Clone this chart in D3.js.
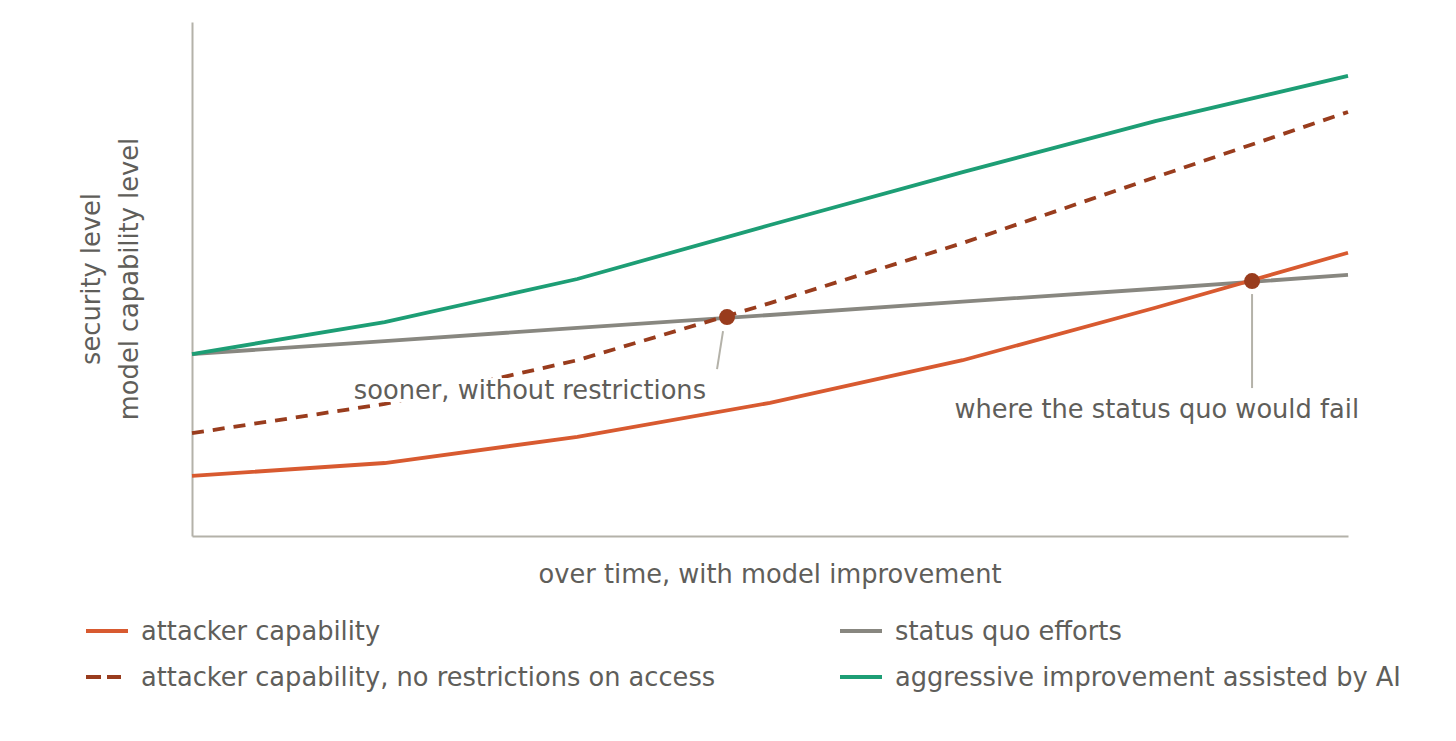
<!DOCTYPE html>
<html>
<head>
<meta charset="utf-8">
<script src="https://cdn.jsdelivr.net/npm/d3@7/dist/d3.min.js"></script>
<style>
  body { margin: 0; background: #fff; }
  text { font-family: "DejaVu Sans", sans-serif; fill: #5f5e5a; font-size: 25.7px; }
</style>
</head>
<body>
<div id="chart"></div>
<script>

// x steps over time (no tick labels in the picture)
const steps = [0, 1, 2, 3, 4, 5, 6];

// series values (0 - 100 scale)
const attacker = [11.7, 14.2, 19.3, 25.9, 34.2, 44.4, 55.1];
const attackerOpen = [20.0, 25.7, 34.2, 45.3, 57.0, 69.8, 82.5];
const statusQuo = [35.4, 37.9, 40.5, 43.0, 45.6, 48.1, 50.8];
const aggressive = [35.4, 41.6, 50.0, 60.5, 70.8, 80.7, 89.5];

// crossing points marked with a dot
const crossX = [2.777, 5.502];
const crossY = [42.6, 49.6];
const crossNotes = ['sooner, without restrictions', 'where the status quo would fail'];

const seriesNames = [
    'attacker capability',
    'attacker capability, no restrictions on access',
    'status quo efforts',
    'aggressive improvement assisted by AI'
];

const xTitle = 'over time, with model improvement';
const yTitles = ['security level', 'model capability level'];

const W = 1456, H = 741;
const margin = {top: 22, right: 108, bottom: 205, left: 192};
const width = W - margin.left - margin.right;
const height = H - margin.top - margin.bottom;

const colors = ['#d85a30', '#993c1d', '#888780', '#1d9e75'];
const dashes = [null, '12,9', null, null];

const svg = d3.select('#chart')
    .append('svg')
    .attr('width', W)
    .attr('height', H);

const g = svg.append('g')
    .attr('transform', `translate(${margin.left}, ${margin.top})`);

const x = d3.scaleLinear()
    .domain([0, 6])
    .range([0, width]);

const y = d3.scaleLinear()
    .domain([0, 100])
    .range([height, 0]);

// axes: plain lines, no ticks
g.append('g')
    .attr('transform', `translate(0, ${height})`)
    .call(d3.axisBottom(x).ticks(0).tickSize(0))
    .call(a => a.select('.domain').attr('stroke', '#b4b2a9').attr('stroke-width', 2));

g.append('g')
    .call(d3.axisLeft(y).ticks(0).tickSize(0))
    .call(a => a.select('.domain').attr('stroke', '#b4b2a9').attr('stroke-width', 2));

// axis titles
g.append('text')
    .attr('x', width / 2)
    .attr('y', height + 47)
    .attr('text-anchor', 'middle')
    .text(xTitle);

yTitles.forEach((t, i) => {
    g.append('text')
        .attr('transform', `translate(${-92 + i * 38}, ${height / 2}) rotate(-90)`)
        .attr('text-anchor', 'middle')
        .text(t);
});

// lines
const allSeries = [attacker, attackerOpen, statusQuo, aggressive];
const line = d3.line()
    .x((d, i) => x(steps[i]))
    .y(d => y(d));

// draw order: status quo, aggressive, attacker, no restrictions
[2, 3, 0, 1].forEach(k => {
    g.append('path')
        .datum(allSeries[k])
        .attr('fill', 'none')
        .attr('stroke', colors[k])
        .attr('stroke-width', 3.8)
        .attr('stroke-dasharray', dashes[k])
        .attr('d', line);
});

// annotation for the first crossing: label with a white box, leader slanting to the dot
const note1 = g.append('g');
const t1 = note1.append('text')
    .attr('x', x(crossX[0]) - 21)
    .attr('y', y(crossY[0]) + 82)
    .attr('text-anchor', 'end')
    .text(crossNotes[0]);
const b1 = t1.node().getBBox();
note1.insert('rect', 'text')
    .attr('x', b1.x - 4)
    .attr('y', b1.y + 3)
    .attr('width', b1.width + 8)
    .attr('height', b1.height - 6)
    .attr('fill', '#fff');
g.append('line')
    .attr('x1', x(crossX[0]) - 10)
    .attr('y1', y(crossY[0]) + 52)
    .attr('x2', x(crossX[0]) - 4)
    .attr('y2', y(crossY[0]) + 14)
    .attr('stroke', '#b4b2a9')
    .attr('stroke-width', 2);

// annotation for the second crossing
g.append('line')
    .attr('x1', x(crossX[1]))
    .attr('y1', y(crossY[1]) + 13)
    .attr('x2', x(crossX[1]))
    .attr('y2', y(crossY[1]) + 107)
    .attr('stroke', '#b4b2a9')
    .attr('stroke-width', 2);
g.append('text')
    .attr('x', x(crossX[1]) + 107)
    .attr('y', y(crossY[1]) + 137)
    .attr('text-anchor', 'end')
    .text(crossNotes[1]);

// dots
g.selectAll('circle.cross')
    .data(crossX)
    .enter()
    .append('circle')
    .attr('class', 'cross')
    .attr('cx', d => x(d))
    .attr('cy', (d, i) => y(crossY[i]))
    .attr('r', 8)
    .attr('fill', '#993c1d');

// legend, two columns
const legendPos = [[86, 631], [86, 677], [840, 631], [840, 677]];
seriesNames.forEach((name, i) => {
    const [lx, ly] = legendPos[i];
    svg.append('line')
        .attr('x1', lx)
        .attr('x2', lx + (i === 1 ? 35 : 42))
        .attr('y1', ly)
        .attr('y2', ly)
        .attr('stroke', colors[i])
        .attr('stroke-width', 4)
        .attr('stroke-dasharray', i === 1 ? '15,6' : null);
    svg.append('text')
        .attr('x', lx + 55)
        .attr('y', ly + 9)
        .text(name);
});

</script>
</body>
</html>
